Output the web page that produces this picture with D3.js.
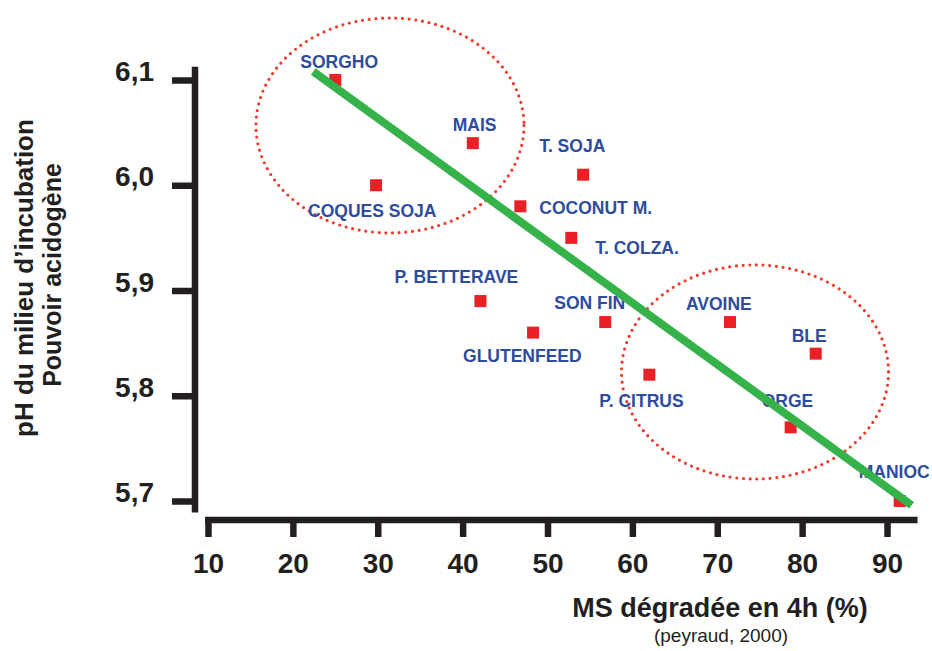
<!DOCTYPE html>
<html>
<head>
<meta charset="utf-8">
<script src="https://cdn.jsdelivr.net/npm/d3@7"></script>
<style>
  html, body { margin: 0; padding: 0; background: #fff; }
  svg { display: block; font-family: "Liberation Sans", Arial, sans-serif; }
</style>
</head>
<body>
<svg id="chart" width="932" height="651"></svg>
<script>
// ---- Data ----
const names   = ["SORGHO","MAIS","COQUES SOJA","T. SOJA","COCONUT M.","T. COLZA.","P. BETTERAVE","SON FIN","GLUTENFEED","P. CITRUS","AVOINE","BLE","ORGE","MANIOC"];
const msDeg   = [25, 41.2, 29.8, 54.2, 46.8, 52.8, 42.1, 56.8, 48.3, 62, 71.5, 81.6, 78.65, 91.5];
const phVals  = [6.10, 6.04, 6.00, 6.01, 5.98, 5.95, 5.89, 5.87, 5.86, 5.82, 5.87, 5.84, 5.77, 5.70];
const xTicks  = [10, 20, 30, 40, 50, 60, 70, 80, 90];
const yTicks  = [5.7, 5.8, 5.9, 6.0, 6.1];
const trendX  = [22.4, 92.9];
const trendY  = [6.108, 5.696];
const groupCx = [31.44, 74.45];
const groupCy = [6.0568, 5.8226];
const groupRx = [15.79, 15.73];
const groupRy = [0.1021, 0.1017];

// label offsets (px) relative to each point
const labelDx = [-35, -20, -68, -44, 19, 24, -86, -51, -70, -50, -44, -24, -29, -41];
const labelDy = [-12, -12, 32, -23, 8, 16, -18, -13, 29, 32, -12, -12, -20, -23];

const svg = d3.select("#chart");
const x = d3.scaleLinear().domain([10, 90]).range([208, 887]);
const y = d3.scaleLinear().domain([5.7, 6.1]).range([501, 80]);

const axisColor = "#231f20";
const blue = "#2d4c9d";
const red = "#ea2027";

// ---- Axes ----
svg.append("line")
  .attr("x1", 195).attr("x2", 195)
  .attr("y1", y(6.1125)).attr("y2", y(5.689))
  .attr("stroke", axisColor).attr("stroke-width", 6.5);

const yAxis = svg.append("g").attr("transform", "translate(195,0)")
  .call(d3.axisLeft(y).tickValues(yTicks).tickSize(23).tickSizeOuter(0).tickPadding(18)
    .tickFormat(d => d3.format(".1f")(d).replace(".", ",")));
yAxis.select(".domain").remove();
yAxis.selectAll(".tick line").attr("stroke", axisColor).attr("stroke-width", 6.5);
yAxis.selectAll(".tick text")
  .attr("fill", axisColor).attr("font-size", 28).attr("font-weight", "bold")
  .attr("font-family", "Liberation Sans, Arial, sans-serif")
  .attr("dy", "0.02em");

svg.append("line")
  .attr("x1", x(10) - 3).attr("x2", x(93.6))
  .attr("y1", 520).attr("y2", 520)
  .attr("stroke", axisColor).attr("stroke-width", 6.5);

const xAxis = svg.append("g").attr("transform", "translate(0,520)")
  .call(d3.axisBottom(x).tickValues(xTicks).tickSize(17).tickSizeOuter(0).tickPadding(16)
    .tickFormat(d3.format("d")));
xAxis.select(".domain").remove();
xAxis.selectAll(".tick line").attr("stroke", axisColor).attr("stroke-width", 6.5);
xAxis.selectAll(".tick text")
  .attr("fill", axisColor).attr("font-size", 28).attr("font-weight", "bold")
  .attr("font-family", "Liberation Sans, Arial, sans-serif")
  .attr("dy", "0.71em");

// Axis titles
svg.append("text")
  .attr("x", 720).attr("y", 617)
  .attr("text-anchor", "middle")
  .attr("font-size", 27).attr("font-weight", "bold").attr("fill", axisColor)
  .text("MS dégradée en 4h (%)");
svg.append("text")
  .attr("x", 721).attr("y", 642)
  .attr("text-anchor", "middle")
  .attr("font-size", 19).attr("fill", axisColor)
  .text("(peyraud, 2000)");

svg.append("text")
  .attr("transform", "translate(33,278) rotate(-90)")
  .attr("text-anchor", "middle")
  .attr("font-size", 26).attr("font-weight", "bold").attr("fill", axisColor)
  .text("pH du milieu d’incubation");
svg.append("text")
  .attr("transform", "translate(61,275) rotate(-90)")
  .attr("text-anchor", "middle")
  .attr("font-size", 25).attr("font-weight", "bold").attr("fill", axisColor)
  .text("Pouvoir acidogène");

// ---- Group ellipses (dotted) ----
svg.append("g").selectAll("ellipse")
  .data(groupCx.map((cx, i) => ({cx, cy: groupCy[i], rx: groupRx[i], ry: groupRy[i]})))
  .join("ellipse")
  .attr("cx", d => x(d.cx))
  .attr("cy", d => y(d.cy))
  .attr("rx", d => x(d.cx + d.rx) - x(d.cx))
  .attr("ry", d => y(d.cy) - y(d.cy + d.ry))
  .attr("fill", "none")
  .attr("stroke", "#ef3b2d")
  .attr("stroke-width", 3.2)
  .attr("stroke-linecap", "round")
  .attr("stroke-dasharray", "0 6.7");

// ---- Points ----
const pts = names.map((n, i) => ({name: n, x: msDeg[i], y: phVals[i], dx: labelDx[i], dy: labelDy[i]}));
const sq = 12;
svg.append("g").selectAll("rect")
  .data(pts).join("rect")
  .attr("x", d => x(d.x) - sq / 2)
  .attr("y", d => y(d.y) - sq / 2)
  .attr("width", sq).attr("height", sq)
  .attr("fill", red);

// ---- Labels ----
svg.append("g").selectAll("text")
  .data(pts).join("text")
  .attr("x", d => x(d.x) + d.dx)
  .attr("y", d => y(d.y) + d.dy)
  .attr("font-size", 17.5).attr("font-weight", "bold")
  .attr("fill", blue)
  .text(d => d.name);

// ---- Trend line ----
svg.append("line")
  .attr("x1", x(trendX[0])).attr("y1", y(trendY[0]))
  .attr("x2", x(trendX[1])).attr("y2", y(trendY[1]))
  .attr("stroke", "#35b24a").attr("stroke-width", 8);
</script>
</body>
</html>
